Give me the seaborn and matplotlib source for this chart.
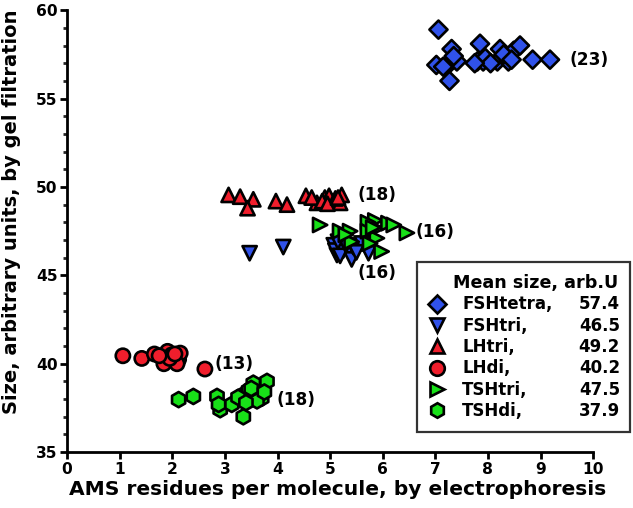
import matplotlib
matplotlib.use("Agg")
import matplotlib.pyplot as plt
from matplotlib.ticker import MultipleLocator
from matplotlib.lines import Line2D
import seaborn as sns
import pandas as pd

# ---- data ----
fsh_tetra_x = [7.06, 7.31, 7.02, 7.24, 7.41, 7.27, 7.85, 7.80, 7.91, 8.23, 8.18, 8.39,
               8.49, 8.61, 8.85, 9.18, 7.35, 7.15, 7.95, 8.30, 8.05, 8.45, 7.75]
fsh_tetra_y = [58.9, 57.8, 56.9, 56.9, 57.1, 56.0, 58.1, 57.1, 57.1, 57.8, 57.1, 57.1,
               57.7, 58.0, 57.2, 57.2, 57.4, 56.8, 57.3, 57.5, 57.0, 57.2, 57.0]

fsh_tri_x = [3.47, 4.11, 5.07, 5.13, 5.10, 5.25, 5.38, 5.41, 5.44, 5.70, 5.73, 5.19,
             5.30, 5.60, 5.15, 5.50]
fsh_tri_y = [46.25, 46.6, 46.7, 46.15, 46.4, 46.4, 46.25, 45.9, 46.6, 46.5, 46.25, 46.1,
             46.7, 46.8, 46.9, 46.3]

lh_tri_x = [3.07, 3.29, 3.54, 3.43, 3.97, 4.18, 4.54, 4.75, 4.90, 5.03, 5.22, 5.19,
            4.98, 4.65, 4.85, 5.10, 4.95, 5.15]
lh_tri_y = [49.55, 49.45, 49.3, 48.8, 49.2, 49.0, 49.5, 49.1, 49.4, 49.2, 49.55, 49.1,
            49.5, 49.4, 49.2, 49.35, 49.05, 49.4]

lh_di_x = [1.06, 1.42, 1.66, 1.84, 1.91, 1.99, 2.12, 2.15, 2.09, 2.62, 1.95, 2.05, 1.75]
lh_di_y = [40.45, 40.3, 40.55, 40.0, 40.7, 40.5, 40.25, 40.6, 40.0, 39.7, 40.3, 40.55, 40.45]

tsh_tri_x = [4.81, 5.19, 5.38, 5.41, 5.86, 5.89, 5.89, 6.11, 6.21, 6.46, 5.98, 5.72,
             5.72, 5.76, 5.30, 5.82]
tsh_tri_y = [47.85, 47.5, 47.5, 46.9, 48.1, 47.65, 47.1, 47.95, 47.85, 47.4, 46.35, 48.0,
             47.5, 46.8, 47.3, 47.7]

tsh_di_x = [2.12, 2.40, 2.85, 2.91, 3.13, 3.35, 3.35, 3.54, 3.64, 3.70, 3.80, 3.61,
            3.45, 2.88, 3.25, 3.50, 3.75, 3.40]
tsh_di_y = [37.97, 38.15, 38.15, 37.4, 37.7, 38.25, 37.0, 38.9, 38.35, 38.05, 39.0, 37.9,
            38.5, 37.7, 38.1, 38.6, 38.4, 37.8]

groups = ["FSHtetra", "FSHtri", "LHtri", "LHdi", "TSHtri", "TSHdi"]
mean_sizes = ["57.4", "46.5", "49.2", "40.2", "47.5", "37.9"]
count_labels = ["(23)", "(16)", "(18)", "(13)", "(16)", "(18)"]
count_label_x = [9.56, 5.52, 5.52, 2.80, 6.62, 3.98]
count_label_y = [57.2, 45.15, 49.55, 40.0, 47.45, 37.95]

xs = [fsh_tetra_x, fsh_tri_x, lh_tri_x, lh_di_x, tsh_tri_x, tsh_di_x]
ys = [fsh_tetra_y, fsh_tri_y, lh_tri_y, lh_di_y, tsh_tri_y, tsh_di_y]

rows = []
for g, gx, gy in zip(groups, xs, ys):
    for a, b in zip(gx, gy):
        rows.append({"x": a, "y": b, "group": g})
df = pd.DataFrame(rows)

blue = "#3052ea"
red = "#f01e2c"
green = "#18e018"
palette = {"FSHtetra": blue, "FSHtri": blue, "LHtri": red, "LHdi": red,
           "TSHtri": green, "TSHdi": green}
markers = {"FSHtetra": "D", "FSHtri": "v", "LHtri": "^", "LHdi": "o",
           "TSHtri": ">", "TSHdi": "h"}

sns.set_style("white")
plt.rcParams["font.family"] = ["DejaVu Sans"]
plt.rcParams["font.weight"] = "bold"
plt.rcParams["text.color"] = "black"
plt.rcParams["axes.labelcolor"] = "black"

fig = plt.figure(figsize=(6.33, 5.08), dpi=100)
ax = fig.add_axes([0.106, 0.110, 0.831, 0.870])

sizes = {"FSHtetra": 85, "FSHtri": 105, "LHtri": 105, "LHdi": 105, "TSHtri": 105, "TSHdi": 120}
for g in groups:
    sub = df[df["group"] == g]
    sns.scatterplot(data=sub, x="x", y="y", hue="group", style="group",
                    palette=palette, markers=markers, s=sizes[g],
                    edgecolor="black", linewidth=1.9, ax=ax, legend=False, zorder=3)

ax.set_xlim(0, 10)
ax.set_ylim(35, 60)
ax.xaxis.set_major_locator(MultipleLocator(1))
ax.yaxis.set_major_locator(MultipleLocator(5))
ax.yaxis.set_minor_locator(MultipleLocator(1))
for s in ["top", "right"]:
    ax.spines[s].set_visible(False)
for s in ["left", "bottom"]:
    ax.spines[s].set_linewidth(2.0)
    ax.spines[s].set_color("black")
ax.tick_params(axis="both", which="major", direction="out", length=5, width=2,
               labelsize=11.2, colors="black", pad=2, left=True, bottom=True)
ax.tick_params(axis="y", which="minor", direction="out", length=3, width=2, left=True)
for lab in ax.get_xticklabels() + ax.get_yticklabels():
    lab.set_fontweight("bold")

ax.set_xlabel("AMS residues per molecule, by electrophoresis", fontsize=14.6,
              fontweight="bold", color="black")
ax.set_ylabel("Size, arbitrary units, by gel filtration", fontsize=14.0,
              fontweight="bold", color="black")
ax.yaxis.set_label_coords(-0.088, 0.543)
ax.xaxis.set_label_coords(0.515, -0.064)

for t, tx, ty in zip(count_labels, count_label_x, count_label_y):
    ax.text(tx, ty, t, fontsize=12.2, fontweight="bold", ha="left", va="center",
            clip_on=False, zorder=4, color="black")

# legend
handles = [Line2D([], [], linestyle="none", marker=markers[g],
                  markersize=10.5 if markers[g] != "D" else 9.5,
                  markerfacecolor=palette[g], markeredgecolor="black",
                  markeredgewidth=1.9) for g in groups]
leg = ax.legend(handles, [g + "," for g in groups], title="Mean size, arb.U",
                loc="upper left", bbox_to_anchor=(0.665, 0.061, 0.405, 0.369),
                mode="expand", frameon=True, fancybox=False, edgecolor="black",
                fontsize=12, title_fontproperties={"weight": "bold", "size": 12.6},
                handlelength=1.0, handletextpad=1.0, labelspacing=0.2,
                borderpad=0.72, borderaxespad=0, labelcolor="black")
leg.get_frame().set_linewidth(1.6)
leg._legend_box.align = "right"
leg.get_title().set_color("black")
for t in leg.get_texts():
    t.set_fontweight("bold")

fig.canvas.draw()
frame_bb = leg.get_frame().get_window_extent()
right_px = frame_bb.x1 - 10
inv = fig.transFigure.inverted()
for t, v in zip(leg.get_texts(), mean_sizes):
    bb = t.get_window_extent()
    yc = (bb.y0 + bb.y1) / 2
    fx, fy = inv.transform((right_px, yc))
    fig.text(fx, fy, v, fontsize=12, fontweight="bold", ha="right", va="center",
             color="black")

fig.savefig("out.png", dpi=100)
